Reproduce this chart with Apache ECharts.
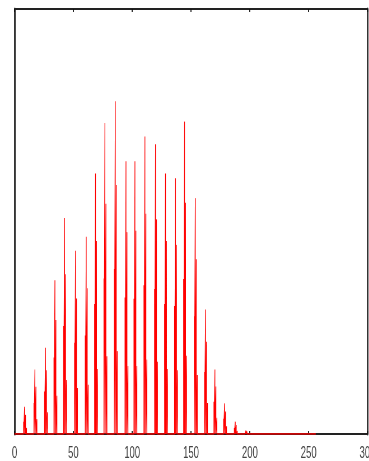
<!DOCTYPE html>
<html>
<head>
<meta charset="utf-8">
<style>
html,body{margin:0;padding:0;background:#fff;overflow:hidden;}
#wrap{width:369px;height:461px;overflow:hidden;position:relative;}
#chart{width:659px;height:461px;transform:scaleX(0.56);transform-origin:0 0;position:absolute;left:0;top:0;}
</style>
<script src="https://cdn.jsdelivr.net/npm/echarts@6/dist/echarts.min.js"></script>
</head>
<body>
<div id="wrap"><div id="chart"></div></div>
<script>
// x-axis tick labels
var xTicks = [0, 50, 100, 150, 200, 250, 300];
// cluster positions (x of the main stick)
var clusterX = [8.5, 17.3, 26.3, 34.3, 42.5, 51.8, 60.9, 68.8, 76.8, 85.6, 94.7, 102.3,
                110.8, 119.8, 128.3, 136.8, 144.5, 153.6, 162.3, 170.3, 178.5, 187.6, 196.7];
// offsets of the four sticks inside each cluster
var stickOffset = [-0.85, 0, 0.85, 1.7];
// heights of the four sticks in each cluster
var h1 = [2.9, 7.3, 10.0, 18.0, 25.4, 21.5, 23.2, 30.6, 36.6, 38.8, 32.1, 31.8,
          35.0, 34.1, 30.6, 30.1, 36.5, 27.7, 14.6, 7.6, 3.6, 1.4, 0.4];
var h2 = [6.4, 15.2, 20.3, 36.2, 50.8, 43.1, 46.4, 61.3, 73.2, 78.3, 64.2, 64.2,
          70.0, 68.2, 61.3, 60.2, 73.5, 55.5, 29.3, 15.2, 7.2, 2.9, 0.8];
var h3 = [4.5, 11.1, 15.0, 26.8, 37.6, 31.9, 34.3, 45.4, 54.2, 58.6, 47.5, 47.8,
          51.8, 50.5, 45.4, 44.5, 54.4, 41.1, 21.7, 11.2, 5.3, 2.1, 0.6];
var h4 = [1.4, 3.5, 5.1, 9.0, 12.7, 10.8, 11.6, 15.3, 18.3, 19.5, 16.0, 16.0,
          17.5, 17.0, 15.3, 15.0, 18.4, 13.9, 7.3, 3.8, 1.8, 0.7, 0.2];
var specStart = 0, specEnd = 256;

// build stick-spectrum trace
var trace = [[specStart, 0]];
for (var i = 0; i < clusterX.length; i++) {
  var hs = [h1[i], h2[i], h3[i], h4[i]];
  for (var k = 0; k < 4; k++) {
    var x = clusterX[i] + stickOffset[k];
    trace.push([x, 0], [x, hs[k]], [x, 0]);
  }
}
trace.push([specEnd, 0]);

var chart = echarts.init(document.getElementById('chart'), null, {renderer: 'canvas'});
var hLine = {show: true, onZero: false, lineStyle: {color: '#222', width: 2}};
var vLine = {show: true, onZero: false, lineStyle: {color: '#333', width: 3}};
var tick = {show: true, inside: true, length: 3, lineStyle: {color: '#111', width: 1.8}};
chart.setOption({
  animation: false,
  backgroundColor: '#fff',
  grid: {left: 26, right: 2.75, top: 9, bottom: 27, containLabel: false, outerBoundsMode: 'none'},
  xAxis: [{
    type: 'value', position: 'bottom', min: 0, max: 300, interval: 50,
    axisLine: hLine, axisTick: tick,
    axisLabel: {show: true, margin: 11, color: '#444', fontSize: 17,
      fontFamily: "'Liberation Sans',Arial,sans-serif",
      showMinLabel: true, showMaxLabel: true, hideOverlap: false,
      formatter: function (v) { return xTicks.indexOf(v) >= 0 ? String(v) : ''; }},
    splitLine: {show: false}
  }, {
    type: 'value', position: 'top', min: 0, max: 300, interval: 50,
    axisLine: hLine, axisTick: tick, axisLabel: {show: false},
    splitLine: {show: false}
  }],
  yAxis: [{
    type: 'value', position: 'left', min: 0, max: 100,
    axisLine: vLine, axisTick: {show: false}, axisLabel: {show: false},
    splitLine: {show: false}
  }, {
    type: 'value', position: 'right', min: 0, max: 100,
    axisLine: vLine, axisTick: {show: false}, axisLabel: {show: false},
    splitLine: {show: false}
  }],
  series: [{
    type: 'line', xAxisIndex: 0, yAxisIndex: 0,
    data: trace, symbol: 'none', showSymbol: false,
    lineStyle: {color: '#ff0000', width: 1.3},
    z: 1
  }]
});
</script>
</body>
</html>
